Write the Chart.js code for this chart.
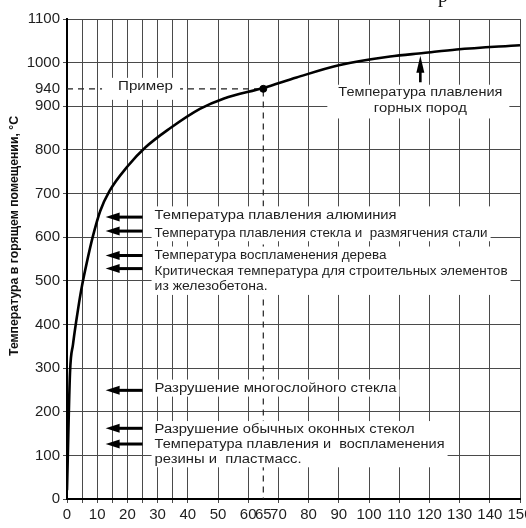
<!DOCTYPE html>
<html lang="ru">
<head>
<meta charset="utf-8">
<title>Температурная кривая пожара</title>
<script src="https://cdn.jsdelivr.net/npm/chart.js@4.4.1/dist/chart.umd.min.js"></script>
<style>
  html, body { margin: 0; padding: 0; background: #fff; }
  #box { width: 526px; height: 528px; }
</style>
</head>
<body>
<div id="box"><canvas id="fireChart" width="526" height="528"></canvas></div>
<script>
// Время, мин, и температура в помещении, °C
const fireTime = [0, 1, 2, 3, 4, 5, 6.5, 8.5, 11, 14, 20, 26, 34, 44, 52, 65, 76, 90, 107, 118, 129, 150];
const fireTemp = [20, 290, 355, 405, 450, 490, 540, 600, 660, 705, 762, 806, 849, 894, 918, 942, 966, 994, 1014, 1022, 1030, 1040];

// Пример: 65 мин -> 940 °C
const exampleTime = 65;
const exampleTemp = 940;

const xTicks = [0, 5, 10, 15, 20, 25, 30, 35, 40, 50, 60, 65, 70, 80, 90, 100, 110, 120, 130, 140, 150];
const yTicks = [0, 100, 200, 300, 400, 500, 600, 700, 800, 900, 940, 1000, 1100];

// Стрелки-указатели
const arrowTemps = [646, 614, 558, 528, 249, 162, 126];
const arrowFrom = 25;
const arrowTo = 12.8;

// Подписи
const noteTexts = [
    'Температура плавления алюминия',
    'Температура плавления стекла и  размягчения стали',
    'Температура воспламенения дерева',
    'Критическая температура для строительных элементов',
    'из железобетона.',
    'Разрушение многослойного стекла',
    'Разрушение обычных оконных стекол',
    'Температура плавления и  воспламенения',
    'резины и  пластмасс.'
];
const noteTemps = [650, 609, 558, 520, 486, 253, 158, 125, 91];
const noteGroup = [0, 0, 1, 1, 1, 2, 3, 3, 3];

const rockTexts = ['Температура плавления', 'горных пород'];
const rockTemps = [931, 895];
const rockTime = 117;
const exampleLabel = 'Пример';
const yTitle = 'Температура в горящем помещении, °С';

// Оформление
const ink = '#1e1e1e';
const gridColor = '#4a4a4a';
const sans = "'Liberation Sans', Arial, sans-serif";
const noteLeft = 29;                 // мин
const noteWidths = [242, 333, 232, 353, 113, 242, 260, 290, 147];
const rockWidths = [164, 93];

function fitText(ctx, text, x, y, w, align) {
    const m = ctx.measureText(text).width;
    ctx.save();
    ctx.translate(x, y);
    ctx.scale(w / m, 1);
    ctx.textAlign = align || 'left';
    ctx.fillText(text, 0, 0);
    ctx.restore();
}

function arrowLeft(ctx, xTip, xTail, yy) {
    ctx.fillRect(xTip + 12, yy - 1.5, xTail - xTip - 12, 3);
    ctx.beginPath();
    ctx.moveTo(xTip, yy);
    ctx.lineTo(xTip + 14, yy - 4.5);
    ctx.lineTo(xTip + 14, yy + 4.5);
    ctx.closePath();
    ctx.fill();
}

function arrowUp(ctx, xx, yTip, yTail) {
    ctx.fillRect(xx - 1.3, yTip + 14, 2.6, yTail - yTip - 14);
    ctx.beginPath();
    ctx.moveTo(xx, yTip);
    ctx.lineTo(xx - 4, yTip + 17);
    ctx.lineTo(xx + 4, yTip + 17);
    ctx.closePath();
    ctx.fill();
}

const notesPlugin = {
    id: 'notes',
    afterDatasetsDraw(chart) {
        const { ctx, scales: { x, y } } = chart;
        const left = x.getPixelForValue(noteLeft);
        ctx.save();

        // белые подложки под текстом
        ctx.fillStyle = '#fff';
        const groups = {};
        noteTemps.forEach((t, i) => {
            const py = y.getPixelForValue(t);
            const g = groups[noteGroup[i]] || (groups[noteGroup[i]] = { top: py, bottom: py, w: 0 });
            g.top = Math.min(g.top, py);
            g.bottom = Math.max(g.bottom, py);
            g.w = Math.max(g.w, noteWidths[i]);
        });
        Object.values(groups).forEach(g => {
            ctx.fillRect(left - 3, g.top - 9, g.w + 6, g.bottom - g.top + 17);
        });
        const rx = x.getPixelForValue(rockTime);
        const ry0 = y.getPixelForValue(rockTemps[0]);
        const ry1 = y.getPixelForValue(rockTemps[1]);
        ctx.fillRect(rx - 93, ry0 - 8, 182, ry1 - ry0 + 18);
        const exX = x.getPixelForValue(exampleTime * 0.26);
        const exY = y.getPixelForValue(exampleTemp);
        ctx.fillRect(exX - 16, exY - 11, 78, 22);

        // подписи
        ctx.fillStyle = ink;
        ctx.font = '12px ' + sans;
        ctx.textBaseline = 'middle';
        noteTexts.forEach((txt, i) => {
            fitText(ctx, txt, left, y.getPixelForValue(noteTemps[i]), noteWidths[i]);
        });
        rockTexts.forEach((txt, i) => {
            fitText(ctx, txt, rx, y.getPixelForValue(rockTemps[i]), rockWidths[i], 'center');
        });
        fitText(ctx, exampleLabel, exX, exY - 2, 55);

        // стрелки
        ctx.fillStyle = '#000';
        arrowTemps.forEach(t => {
            arrowLeft(ctx, x.getPixelForValue(arrowTo), x.getPixelForValue(arrowFrom), y.getPixelForValue(t));
        });
        arrowUp(ctx, rx, y.getPixelForValue(1016), y.getPixelForValue(955));
        ctx.restore();
    },
    afterDraw(chart) {
        const { ctx } = chart;
        ctx.save();
        ctx.fillStyle = '#111';
        ctx.font = 'bold 12px ' + sans;
        ctx.textBaseline = 'middle';
        ctx.translate(15, 236);
        ctx.rotate(-Math.PI / 2);
        fitText(ctx, yTitle, 0, 0, 240, 'center');
        ctx.restore();

        // обрезанный край текста сверху страницы
        ctx.save();
        ctx.fillStyle = '#111';
        ctx.font = "20px 'Liberation Serif', serif";
        ctx.textBaseline = 'alphabetic';
        ctx.fillText('р', 438, 2);
        ctx.restore();
    }
};

new Chart(document.getElementById('fireChart'), {
    type: 'line',
    data: {
        datasets: [
            {
                data: fireTime.map((t, i) => ({ x: t, y: fireTemp[i] })),
                borderColor: '#000',
                borderWidth: 2.6,
                pointRadius: 0,
                cubicInterpolationMode: 'monotone',
                fill: false
            },
            {
                type: 'scatter',
                data: [{ x: exampleTime, y: exampleTemp }],
                pointRadius: 3.5,
                pointBackgroundColor: '#000',
                pointBorderColor: '#000'
            },
            {
                data: [
                    { x: 0, y: exampleTemp },
                    { x: exampleTime, y: exampleTemp },
                    { x: exampleTime, y: 0 }
                ],
                borderColor: '#222',
                borderWidth: 1.2,
                borderDash: [6, 5],
                pointRadius: 0,
                tension: 0,
                fill: false
            }
        ]
    },
    options: {
        responsive: false,
        devicePixelRatio: 1,
        animation: false,
        layout: { padding: { top: 19, right: 6, bottom: 0, left: 0 } },
        plugins: {
            legend: { display: false },
            tooltip: { enabled: false }
        },
        scales: {
            x: {
                type: 'linear',
                min: 0,
                max: 150,
                afterBuildTicks: s => { s.ticks = xTicks.map(v => ({ value: v })); },
                afterFit: s => { s.height = 29; s.paddingLeft = 0; s.paddingRight = 0; },
                ticks: {
                    autoSkip: false,
                    maxRotation: 0,
                    padding: 3,
                    color: ink,
                    font: { size: 15, family: sans },
                    callback: v => (v % 10 === 0 || v === exampleTime) ? String(v) : ''
                },
                grid: {
                    color: c => (c.tick && c.tick.value === exampleTime) ? 'rgba(0,0,0,0)' : gridColor,
                    lineWidth: 1,
                    tickLength: 4
                },
                border: { color: '#000', width: 2 }
            },
            y: {
                type: 'linear',
                min: 0,
                max: 1100,
                afterBuildTicks: s => { s.ticks = yTicks.map(v => ({ value: v })); },
                afterFit: s => { s.width = 67; s.paddingTop = 0; s.paddingBottom = 0; },
                ticks: {
                    autoSkip: false,
                    padding: 3,
                    color: ink,
                    font: { size: 15, family: sans },
                    callback: v => String(v)
                },
                grid: {
                    color: c => (c.tick && c.tick.value === exampleTemp) ? 'rgba(0,0,0,0)' : gridColor,
                    lineWidth: 1,
                    tickLength: 4
                },
                border: { color: '#000', width: 2 }
            }
        }
    },
    plugins: [notesPlugin]
});
</script>
</body>
</html>
